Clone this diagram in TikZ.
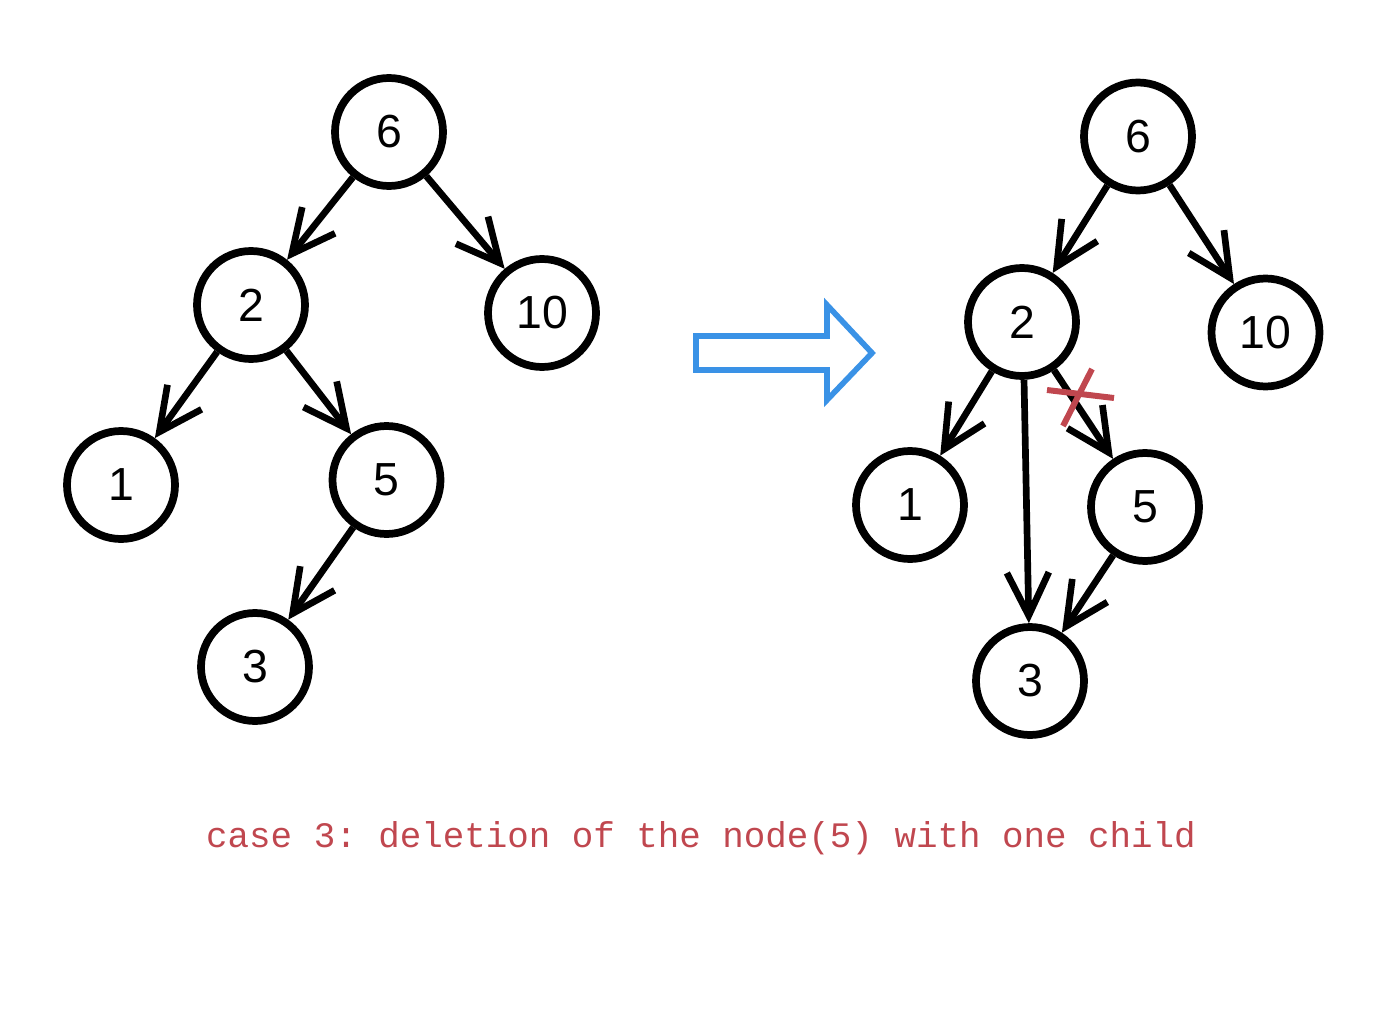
\documentclass[tikz,border=0pt]{standalone}
\usepackage{fontspec}
\setmainfont{Liberation Sans}
\setmonofont{Liberation Mono}
\usetikzlibrary{arrows.meta}
\definecolor{arrowblue}{HTML}{3A92E6}
\definecolor{crossred}{HTML}{C0474F}
\begin{document}
\begin{tikzpicture}

\tikzset{vertex/.style = {shape=circle,draw,line width=2.2pt,minimum size=1.08cm,inner sep=0pt,font=\fontsize{13.2}{15}\selectfont}}
\tikzset{edge/.style = {line width=1.9pt,-{Straight Barb[length=4.3mm,width=4.2mm,line width=1.9pt]}}}
\useasboundingbox (0,0) rectangle (14,10.18);
% vertices (before)
\node[vertex] (l6) at  (3.89,8.86) {6};
\node[vertex] (l2) at  (2.51,7.13) {2};
\node[vertex] (l10) at (5.42,7.05) {10};
\node[vertex] (l1) at  (1.21,5.33) {1};
\node[vertex] (l5) at  (3.865,5.38) {5};
\node[vertex] (l3) at  (2.55,3.51) {3};
% vertices (after)
\node[vertex] (r6) at  (11.38,8.815) {6};
\node[vertex] (r2) at  (10.22,6.96) {2};
\node[vertex] (r10) at (12.655,6.855) {10};
\node[vertex] (r1) at  (9.10,5.13) {1};
\node[vertex] (r5) at  (11.45,5.11) {5};
\node[vertex] (r3) at  (10.30,3.37) {3};
%edges
\draw[edge] (l6) to (l2);
\draw[edge] (l6) to (l10);
\draw[edge] (l2) to (l1);
\draw[edge] (l2) to (l5);
\draw[edge] (l5) to (l3);
\draw[edge] (r6) to (r2);
\draw[edge] (r6) to (r10);
\draw[edge] (r2) to (r1);
\draw[edge] (r2) to (r5);
\draw[edge] (r2.272) to (r3);
\draw[edge] (r5) to (r3);
% cut edge
\draw[crossred,line width=1.7pt] (10.47,6.28) -- (11.14,6.20);
\draw[crossred,line width=1.7pt] (10.92,6.49) -- (10.63,5.92);
% big arrow
\draw[arrowblue,line width=1.6pt,line join=miter] (6.96,6.82) -- (8.27,6.82) -- (8.27,7.13) -- (8.72,6.65) -- (8.27,6.18) -- (8.27,6.48) -- (6.96,6.48) -- cycle;
% caption
\node[text=crossred,font=\ttfamily\fontsize{10.2}{12}\selectfont] (caption) at (7.01,1.80) {case 3: deletion of the node(5) with one child};
\end{tikzpicture}
\end{document}
